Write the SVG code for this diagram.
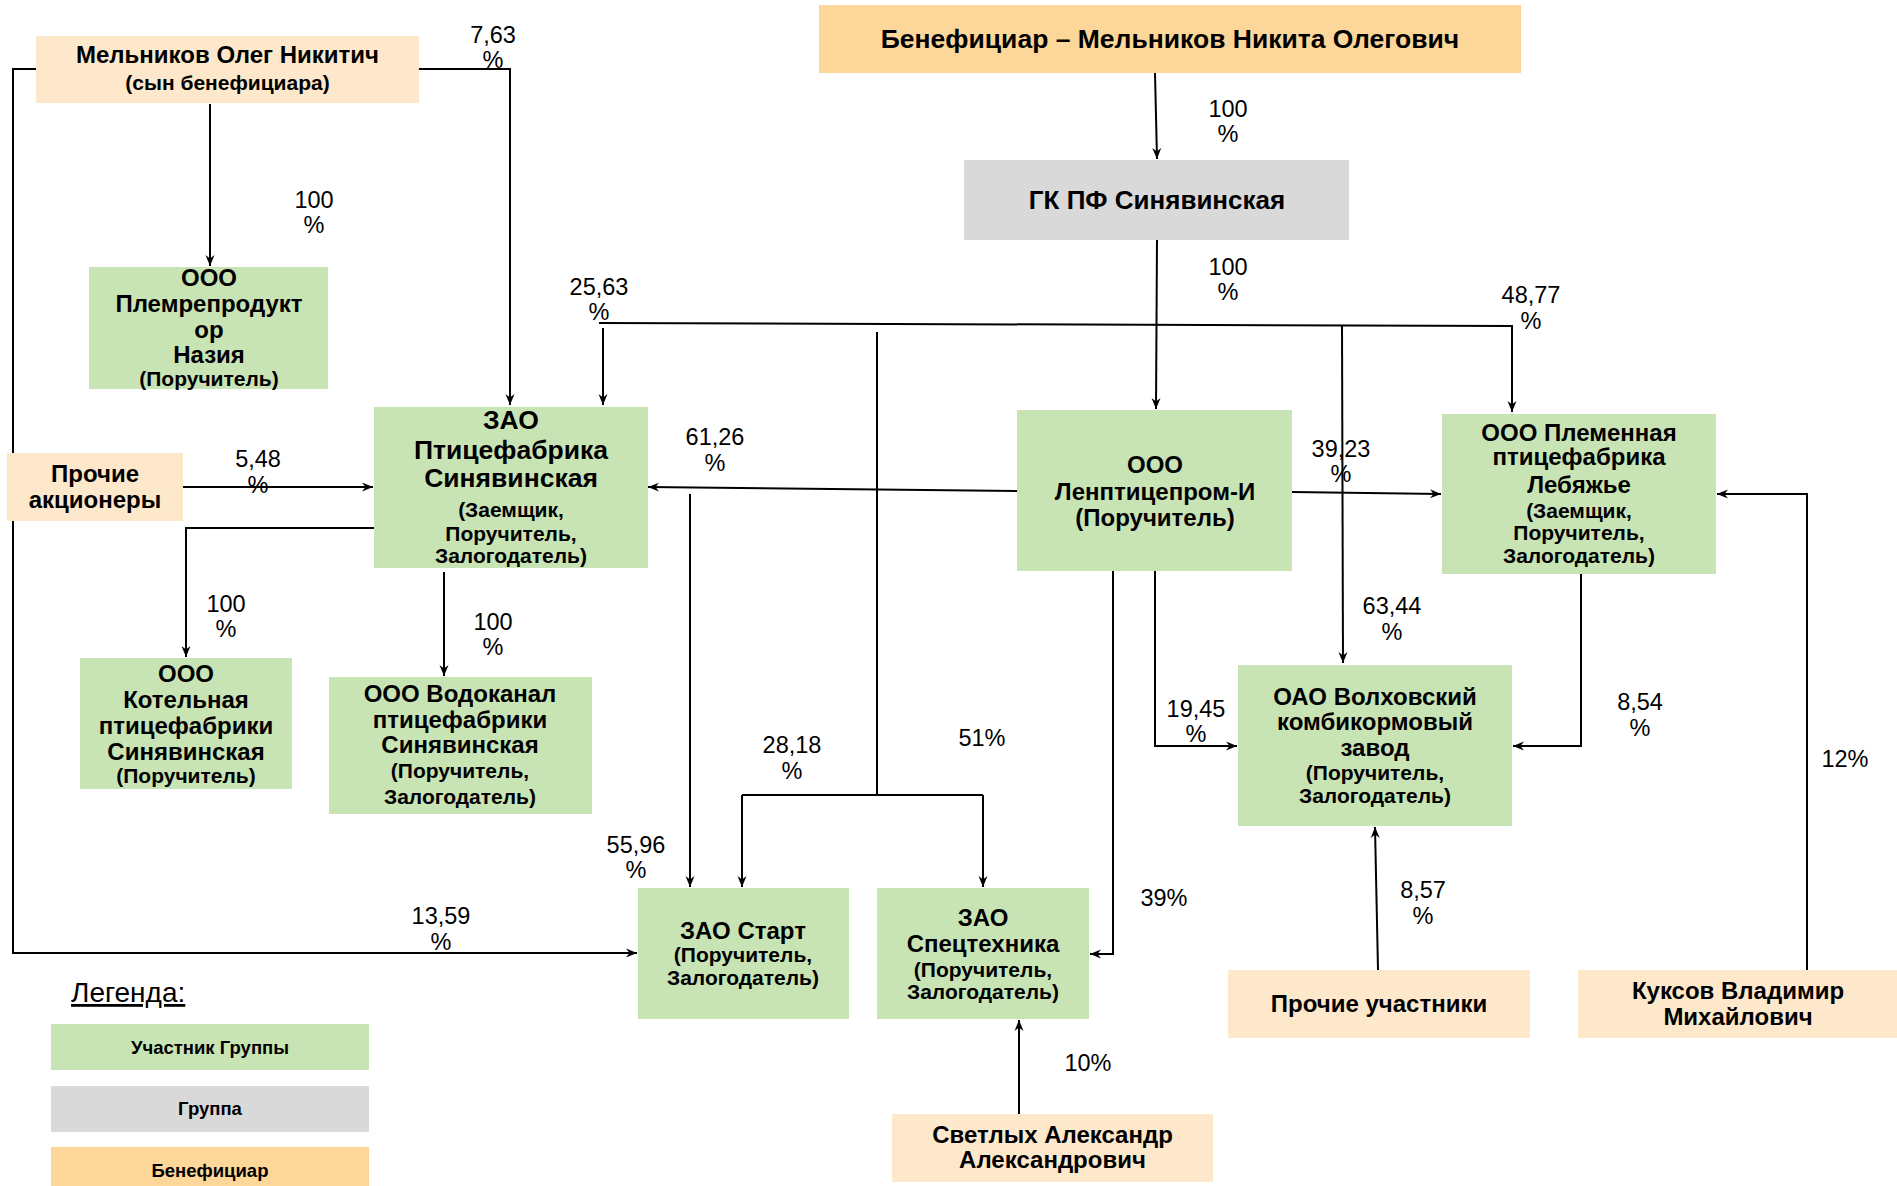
<svg xmlns="http://www.w3.org/2000/svg" width="1897" height="1186" viewBox="0 0 1897 1186">
<defs>
<marker id="arr" markerUnits="userSpaceOnUse" markerWidth="14" markerHeight="12" refX="11" refY="5" orient="auto">
<path d="M0,0.5 L11,5 L0,9.5 L3.5,5 Z" fill="#000"/>
</marker>
<style>
.g{fill:#C9E4B4}
.p{fill:#FEE8CB}
.o{fill:#FDD699}
.gr{fill:#D9D9D9}
text{font-family:"Liberation Sans",Arial,sans-serif;fill:#000}
.t{font-weight:bold;font-size:24px;text-anchor:middle}
.s{font-weight:bold;font-size:21px;text-anchor:middle}
.l{font-size:23.5px;text-anchor:middle}
.c path{fill:none;stroke:#000;stroke-width:2}
.c .a{marker-end:url(#arr)}
</style>
</defs>
<rect width="1897" height="1186" fill="#fff"/>

<g class="c" id="connectors">
<path class="a" d="M1155,73 L1157,159"/>
<path class="a" d="M1157,240 L1156,409"/>
<path class="a" d="M599,323 L1512,326 L1512,412"/>
<path class="a" d="M603,328 L603,405"/>
<path class="a" d="M1342,325 L1343,663"/>
<path d="M877,332 L877,795 M742,795 L983,795"/>
<path class="a" d="M742,795 L742,887"/>
<path class="a" d="M983,795 L983,887"/>
<path class="a" d="M419,69 L510,69 L510,405"/>
<path class="a" d="M36,69 L13,69 L13,953 L637,953"/>
<path class="a" d="M210,104 L210,266"/>
<path class="a" d="M183,487 L373,487"/>
<path class="a" d="M374,528 L186,528 L186,657"/>
<path class="a" d="M444,572 L444,676"/>
<path class="a" d="M1017,491 L648,487"/>
<path class="a" d="M690,494 L690,887"/>
<path class="a" d="M1113,569 L1113,954 L1090,954"/>
<path class="a" d="M1155,571 L1155,746 L1237,746"/>
<path class="a" d="M1292,492 L1441,494"/>
<path class="a" d="M1581,574 L1581,746 L1513,746"/>
<path class="a" d="M1807,970 L1807,494 L1717,494"/>
<path class="a" d="M1378,970 L1375,827"/>
<path class="a" d="M1019,1114 L1019,1020"/>
</g>

<g id="labels">
<text class="l" x="493" y="43">7,63</text><text class="l" x="493" y="68">%</text>
<text class="l" x="314" y="208">100</text><text class="l" x="314" y="233">%</text>
<text class="l" x="599" y="295">25,63</text><text class="l" x="599" y="320">%</text>
<text class="l" x="1228" y="117">100</text><text class="l" x="1228" y="142">%</text>
<text class="l" x="1228" y="275">100</text><text class="l" x="1228" y="300">%</text>
<text class="l" x="1531" y="303">48,77</text><text class="l" x="1531" y="329">%</text>
<text class="l" x="258" y="467">5,48</text><text class="l" x="258" y="493">%</text>
<text class="l" x="226" y="612">100</text><text class="l" x="226" y="637">%</text>
<text class="l" x="493" y="630">100</text><text class="l" x="493" y="655">%</text>
<text class="l" x="715" y="445">61,26</text><text class="l" x="715" y="471">%</text>
<text class="l" x="792" y="753">28,18</text><text class="l" x="792" y="779">%</text>
<text class="l" x="982" y="746">51%</text>
<text class="l" x="1196" y="717">19,45</text><text class="l" x="1196" y="742">%</text>
<text class="l" x="1341" y="457">39,23</text><text class="l" x="1341" y="482">%</text>
<text class="l" x="1392" y="614">63,44</text><text class="l" x="1392" y="640">%</text>
<text class="l" x="1640" y="710">8,54</text><text class="l" x="1640" y="736">%</text>
<text class="l" x="1845" y="767">12%</text>
<text class="l" x="441" y="924">13,59</text><text class="l" x="441" y="950">%</text>
<text class="l" x="636" y="853">55,96</text><text class="l" x="636" y="878">%</text>
<text class="l" x="1164" y="906">39%</text>
<text class="l" x="1088" y="1071">10%</text>
<text class="l" x="1423" y="898">8,57</text><text class="l" x="1423" y="924">%</text>
</g>

<g id="ben">
<rect class="o" x="819" y="5" width="702" height="68"/>
<text class="t" x="1170" y="48" style="font-size:26.5px">Бенефициар – Мельников Никита Олегович</text>
</g>
<g id="gk">
<rect class="gr" x="964" y="160" width="385" height="80"/>
<text class="t" x="1157" y="209" style="font-size:26px">ГК ПФ Синявинская</text>
</g>
<g id="olg">
<rect class="p" x="36" y="36" width="383" height="67"/>
<text class="t" x="227.5" y="63">Мельников Олег Никитич</text>
<text class="s" x="227.5" y="90">(сын бенефициара)</text>
</g>
<g id="plem">
<rect class="g" x="89" y="267" width="239" height="122"/>
<text class="t" x="209" y="286">ООО</text>
<text class="t" x="209" y="312">Племрепродукт</text>
<text class="t" x="209" y="338">ор</text>
<text class="t" x="209" y="363">Назия</text>
<text class="s" x="209" y="386">(Поручитель)</text>
</g>
<g id="zao">
<rect class="g" x="374" y="407" width="274" height="161"/>
<text class="t" x="511" y="429" style="font-size:26.5px">ЗАО</text>
<text class="t" x="511" y="459" style="font-size:26.5px">Птицефабрика</text>
<text class="t" x="511" y="487" style="font-size:26.5px">Синявинская</text>
<text class="s" x="511" y="517">(Заемщик,</text>
<text class="s" x="511" y="541">Поручитель,</text>
<text class="s" x="511" y="563">Залогодатель)</text>
</g>
<g id="proch_akc">
<rect class="p" x="7" y="453" width="176" height="68"/>
<text class="t" x="95" y="482">Прочие</text>
<text class="t" x="95" y="508">акционеры</text>
</g>
<g id="kotel">
<rect class="g" x="80" y="658" width="212" height="131"/>
<text class="t" x="186" y="682">ООО</text>
<text class="t" x="186" y="708">Котельная</text>
<text class="t" x="186" y="734">птицефабрики</text>
<text class="t" x="186" y="760">Синявинская</text>
<text class="s" x="186" y="783">(Поручитель)</text>
</g>
<g id="vodo">
<rect class="g" x="329" y="677" width="263" height="137"/>
<text class="t" x="460" y="702">ООО Водоканал</text>
<text class="t" x="460" y="728">птицефабрики</text>
<text class="t" x="460" y="753">Синявинская</text>
<text class="s" x="460" y="778">(Поручитель,</text>
<text class="s" x="460" y="804">Залогодатель)</text>
</g>
<g id="lenpt">
<rect class="g" x="1017" y="410" width="275" height="161"/>
<text class="t" x="1155" y="473">ООО</text>
<text class="t" x="1155" y="500">Ленптицепром-И</text>
<text class="t" x="1155" y="526">(Поручитель)</text>
</g>
<g id="lebya">
<rect class="g" x="1442" y="414" width="274" height="160"/>
<text class="t" x="1579" y="441">ООО Племенная</text>
<text class="t" x="1579" y="465">птицефабрика</text>
<text class="t" x="1579" y="493">Лебяжье</text>
<text class="s" x="1579" y="518">(Заемщик,</text>
<text class="s" x="1579" y="540">Поручитель,</text>
<text class="s" x="1579" y="563">Залогодатель)</text>
</g>
<g id="oao">
<rect class="g" x="1238" y="665" width="274" height="161"/>
<text class="t" x="1375" y="705">ОАО Волховский</text>
<text class="t" x="1375" y="730">комбикормовый</text>
<text class="t" x="1375" y="756">завод</text>
<text class="s" x="1375" y="780">(Поручитель,</text>
<text class="s" x="1375" y="803">Залогодатель)</text>
</g>
<g id="start">
<rect class="g" x="638" y="888" width="211" height="131"/>
<text class="t" x="743" y="939">ЗАО Старт</text>
<text class="s" x="743" y="962">(Поручитель,</text>
<text class="s" x="743" y="985">Залогодатель)</text>
</g>
<g id="spets">
<rect class="g" x="877" y="888" width="212" height="131"/>
<text class="t" x="983" y="926">ЗАО</text>
<text class="t" x="983" y="952">Спецтехника</text>
<text class="s" x="983" y="977">(Поручитель,</text>
<text class="s" x="983" y="999">Залогодатель)</text>
</g>
<g id="svetl">
<rect class="p" x="892" y="1114" width="321" height="68"/>
<text class="t" x="1052.5" y="1143">Светлых Александр</text>
<text class="t" x="1052.5" y="1168">Александрович</text>
</g>
<g id="proch_uch">
<rect class="p" x="1228" y="970" width="302" height="68"/>
<text class="t" x="1379" y="1012">Прочие участники</text>
</g>
<g id="kuksov">
<rect class="p" x="1578" y="970" width="319" height="68"/>
<text class="t" x="1738" y="999">Куксов Владимир</text>
<text class="t" x="1738" y="1025">Михайлович</text>
</g>

<g id="legend">
<text x="71" y="1002" style="font-size:28px;text-decoration:underline">Легенда:</text>
<rect class="g" x="51" y="1024" width="318" height="46"/>
<text class="s" x="210" y="1054" style="font-size:18.5px">Участник Группы</text>
<rect class="gr" x="51" y="1086" width="318" height="46"/>
<text class="s" x="210" y="1115" style="font-size:18.5px">Группа</text>
<rect class="o" x="51" y="1147" width="318" height="45"/>
<text class="s" x="210" y="1177" style="font-size:18.5px">Бенефициар</text>
</g>
</svg>
